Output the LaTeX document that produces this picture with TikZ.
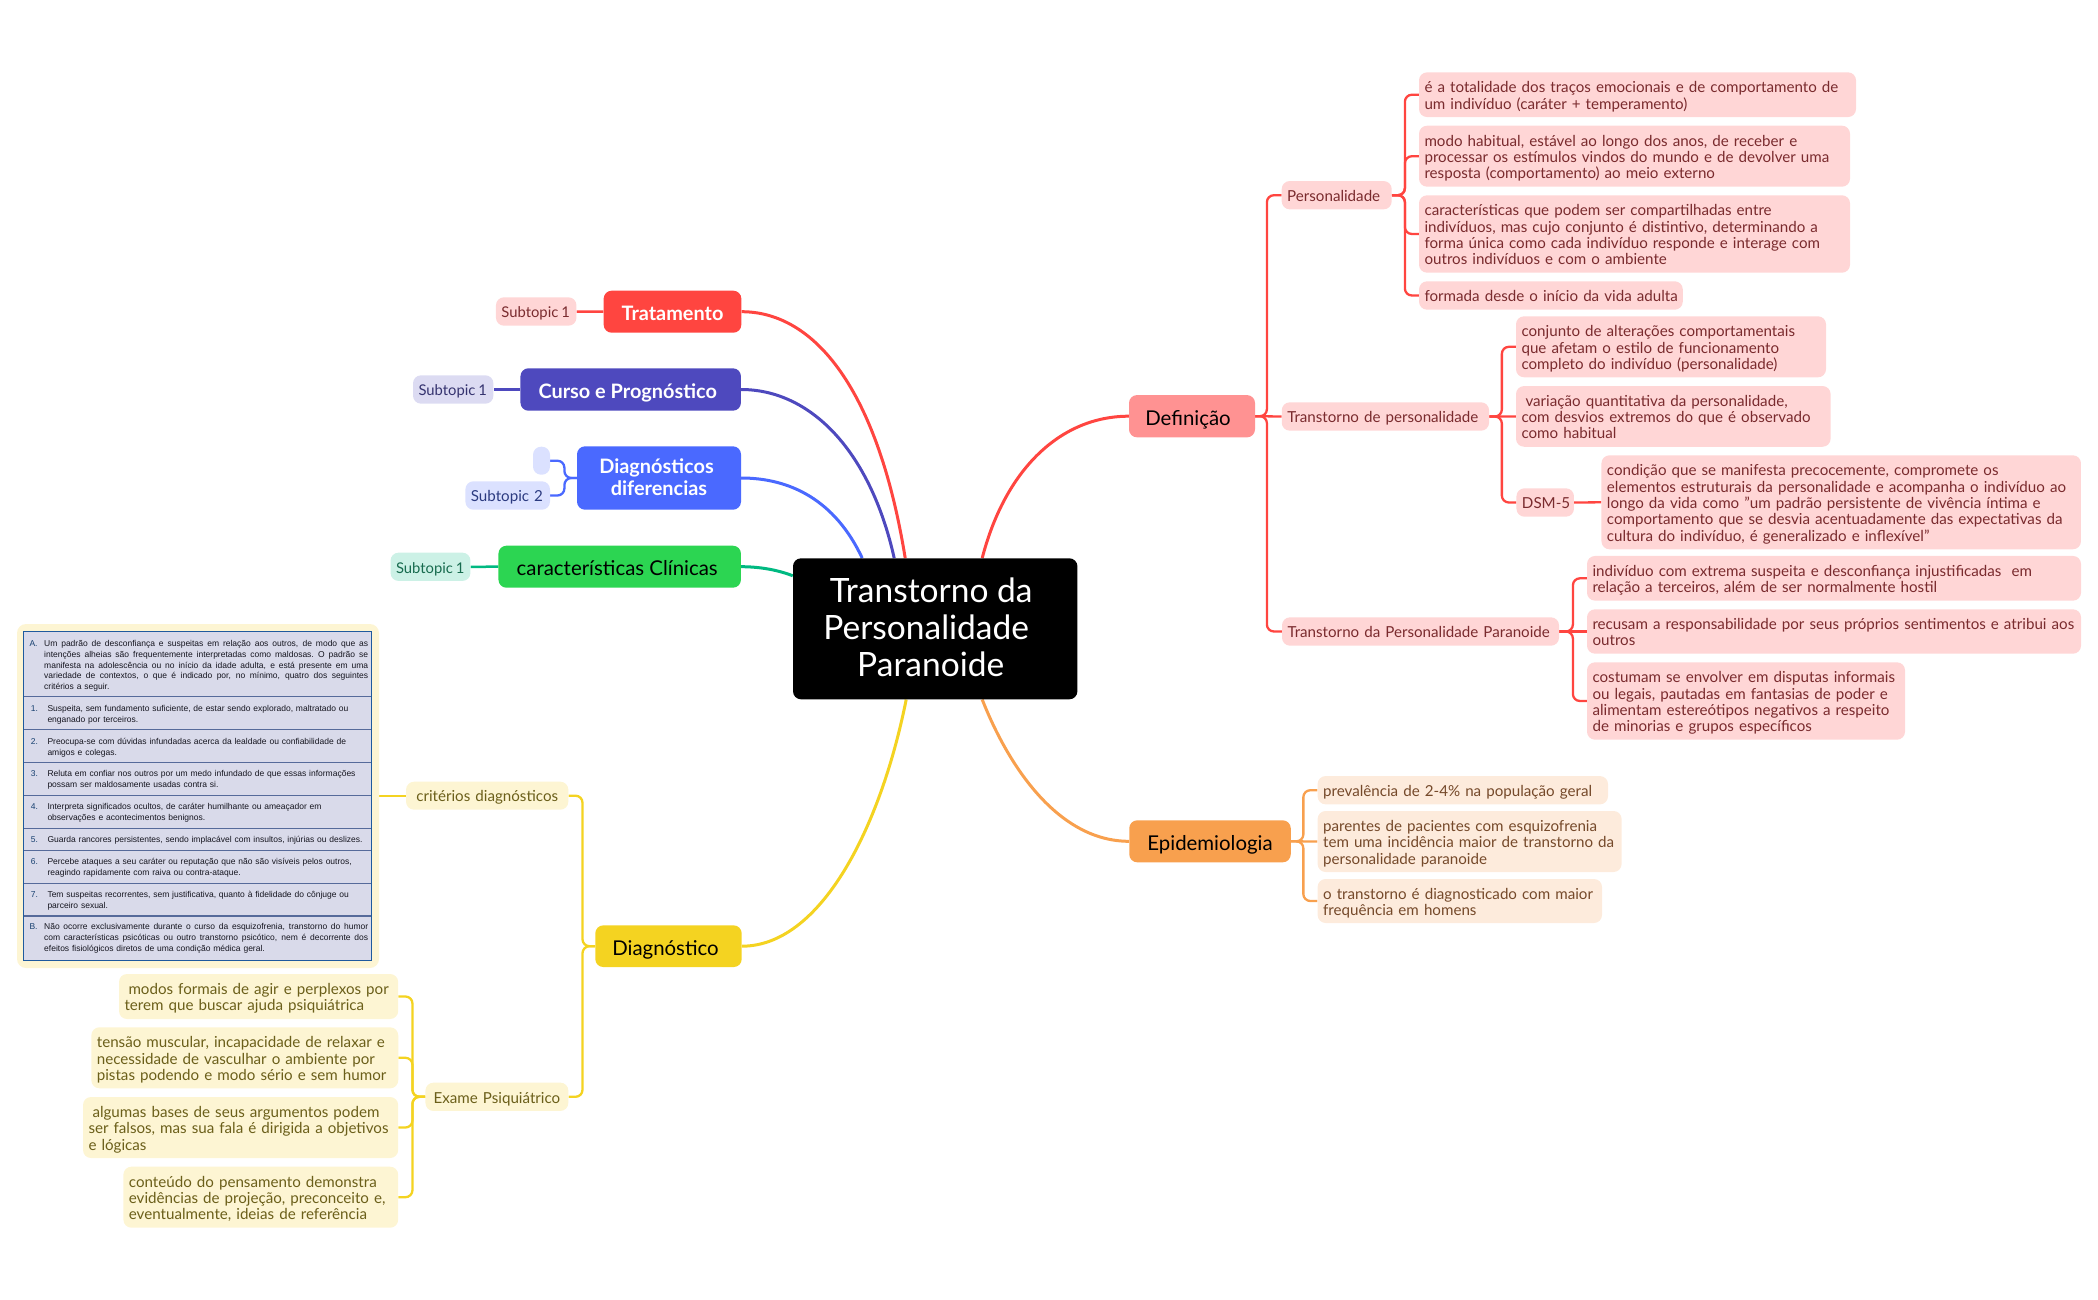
\documentclass[tikz,border=0pt]{standalone}
\usepackage{fontspec}
\setmainfont{Lato}
\newfontfamily\tablefont{Liberation Sans}
\usetikzlibrary{backgrounds}
\definecolor{cRed}{HTML}{FF4540}
\definecolor{cRedL}{HTML}{FFD6D6}
\definecolor{cRedT}{HTML}{7A2B2E}
\definecolor{cDef}{HTML}{FF9292}
\definecolor{cPur}{HTML}{4E49BE}
\definecolor{cPurL}{HTML}{DCDBF2}
\definecolor{cPurT}{HTML}{35336F}
\definecolor{cBlu}{HTML}{4A69FF}
\definecolor{cBluL}{HTML}{DBE1FF}
\definecolor{cBluT}{HTML}{2B3A80}
\definecolor{cGrn}{HTML}{2CD552}
\definecolor{cGrnLn}{HTML}{00B981}
\definecolor{cGrnL}{HTML}{CCF1E6}
\definecolor{cGrnT}{HTML}{176B4E}
\definecolor{cYel}{HTML}{F4D321}
\definecolor{cYelL}{HTML}{FDF5D3}
\definecolor{cYelT}{HTML}{6B5F1A}
\definecolor{cOra}{HTML}{F8A04E}
\definecolor{cOraL}{HTML}{FDEBDC}
\definecolor{cOraT}{HTML}{75492A}
\definecolor{cTab}{HTML}{D9DAEA}
\definecolor{cTabLn}{HTML}{566A9A}
\definecolor{cTabFr}{HTML}{1F5A9E}
\definecolor{cTabT}{HTML}{15151F}
\newcommand\jline[1]{\leavevmode\hbox to 324pt{\spaceskip=2.36pt plus 1fil\relax #1}}
\newcommand\firstgap[1]{\rule{0pt}{#1}}
\newcommand\lastgap[1]{\rule[-#1]{0pt}{1pt}}
\tikzset{
  x=1pt,y=-1pt,
  center/.style={fill=black,text=white,rounded corners=8pt,inner sep=0pt,align=center,font=\fontsize{33.5}{37}\selectfont,execute at begin node={\firstgap{35pt}},execute at end node={\lastgap{6.4pt}}},
  main/.style={rounded corners=8pt,inner sep=0pt,align=center,font=\fontsize{20.4}{22}\selectfont,execute at begin node={\firstgap{23pt}},execute at end node={\lastgap{5pt}}},
  mainw/.style={main,text=white,font=\fontsize{19.9}{22}\selectfont\bfseries},
  sub/.style={rounded corners=8pt,inner xsep=5.5pt,inner ysep=0pt,align=left,font=\fontsize{15.15}{16.3}\selectfont,execute at begin node={\firstgap{16.5pt}},execute at end node={\lastgap{4pt}}},
  rsub/.style={sub,fill=cRedL,text=cRedT},
  psub/.style={sub,fill=cPurL,text=cPurT},
  bsub/.style={sub,fill=cBluL,text=cBluT},
  gsub/.style={sub,fill=cGrnL,text=cGrnT},
  ysub/.style={sub,fill=cYelL,text=cYelT},
  osub/.style={sub,fill=cOraL,text=cOraT},
  topicone/.style={font=\fontsize{14.8}{16.3}\selectfont},
  thick1/.style={line width=3pt},
  branch/.style={line width=2.3pt,rounded corners=7pt},
  tablerow/.style={fill=cTab,draw=cTabLn,line width=1pt,minimum width=347.3pt,inner sep=0pt},
  tablab/.style={anchor=north west,inner sep=0pt,text=cTabFr!70!black,font=\tablefont\fontsize{8.5}{10.7}\selectfont},
  tabtxt/.style={anchor=north west,inner sep=0pt,text=cTabT,align=left,font=\tablefont\fontsize{8.5}{10.7}\selectfont},
}
\begin{document}
\begin{tikzpicture}
\useasboundingbox (0,0) rectangle (2098,1300);
% central topic
\node[center,minimum width=284.4pt,minimum height=141pt] (root) at (935.2,628.8) {\raisebox{-4pt}{Transtorno da}\kern8pt\\\raisebox{-4pt}{Personalidade}\kern18pt\\\raisebox{-4pt}{Paranoide}\kern9pt};
% main topics
\node[mainw,fill=cRed,minimum width=137.7pt,minimum height=42pt] (trat) at (672.5,311.7) {Tratamento};
\node[mainw,fill=cPur,minimum width=220.5pt,minimum height=42.4pt] (curso) at (630.7,389.5) {Curso e Prognóstico\kern6pt};
\node[mainw,fill=cBlu,minimum width=164pt,minimum height=63.4pt,execute at begin node={\firstgap{26pt}}] (difer) at (659,478) {\raisebox{-3.5pt}{Diagnósticos}\kern5pt\\\raisebox{-3.5pt}{diferencias}};
\node[main,fill=cGrn,text=black,minimum width=242.5pt,minimum height=42pt] (clin) at (619.7,566.7) {características Clínicas\kern5pt};
\node[main,fill=cDef,text=black,minimum width=126pt,minimum height=42.3pt] (defi) at (1192,416.2) {Definição\kern8pt};
\node[main,fill=cOra,text=black,minimum width=161.5pt,minimum height=42pt] (epi) at (1210,841.3) {Epidemiologia};
\node[main,fill=cYel,text=black,minimum width=146.4pt,minimum height=41.7pt] (diag) at (668.5,946.2) {Diagnóstico\kern6pt};
% left subtopics
\node[rsub,topicone,text width=69.5pt,minimum height=28.4pt] (s1) at (536.2,311.5) {\mbox{Subtopic\kern3pt 1}};
\node[psub,topicone,text width=69.4pt,minimum height=28.4pt] (s2) at (453.2,389.5) {\mbox{Subtopic\kern3pt 1}};
\node[bsub,inner xsep=0pt,minimum width=17pt,minimum height=28pt,execute at begin node={},execute at end node={}] (s3) at (541.5,460.7) {};
\node[bsub,text width=73.6pt,minimum height=28.4pt] (s4) at (507.7,495.5) {\mbox{Subtopic 2}};
\node[gsub,topicone,text width=68.9pt,minimum height=28.3pt] (s5) at (430.5,566.8) {\mbox{Subtopic\kern3pt 1}};
% Definição
\node[rsub,text width=99pt,minimum height=28.3pt] (per) at (1336.7,195.2) {Personalidade};
\node[rsub,text width=426pt,minimum height=44.7pt] (p1) at (1637.5,94.7) {é a totalidade dos traços emocionais e de comportamento de\\um indivíduo (caráter + temperamento)};
\node[rsub,text width=420pt,minimum height=61pt] (p2) at (1634.5,156.2) {modo habitual, estável ao longo dos anos, de receber e\\processar os estímulos vindos do mundo e de devolver uma\\resposta (comportamento) ao meio externo};
\node[rsub,text width=420pt,minimum height=77.4pt] (p3) at (1634.5,234) {características que podem ser compartilhadas entre\\indivíduos, mas cujo conjunto é distintivo, determinando a\\forma única como cada indivíduo responde e interage com\\outros indivíduos e com o ambiente};
\node[rsub,text width=252.7pt,minimum height=28.4pt] (p4) at (1550.9,295.5) {\mbox{formada desde o início da vida adulta}};
\node[rsub,text width=196.3pt,minimum height=28.4pt] (tdp) at (1385.4,416.5) {\mbox{Transtorno de personalidade}};
\node[rsub,text width=299pt,minimum height=61pt] (q1) at (1671,346.8) {conjunto de alterações comportamentais\\que afetam o estilo de funcionamento\\completo do indivíduo (personalidade)};
\node[rsub,text width=303.6pt,minimum height=60.7pt] (q2) at (1673.3,416.4) {\hspace*{4pt}variação quantitativa da personalidade,\\com desvios extremos do que é observado\\como habitual};
\node[rsub,text width=46.5pt,minimum height=28.4pt] (dsm) at (1545.2,502.5) {\mbox{DSM-5}};
\node[rsub,text width=468.5pt,minimum height=94pt] (dsmt) at (1841.2,502.3) {condição que se manifesta precocemente, compromete os\\elementos estruturais da personalidade e acompanha o indivíduo ao\\longo da vida como "um padrão persistente de vivência íntima e\\comportamento que se desvia acentuadamente das expectativas da\\cultura do indivíduo, é generalizado e inflexível"};
\node[rsub,text width=266pt,minimum height=28.4pt] (tpp) at (1420.5,631.5) {\mbox{Transtorno da Personalidade Paranoide}};
\node[rsub,text width=483pt,minimum height=44.7pt] (t1) at (1834,578.3) {indivíduo com extrema suspeita e desconfiança injustificadas\ \ em\\relação a terceiros, além de ser normalmente hostil};
\node[rsub,text width=483pt,minimum height=44.4pt] (t2) at (1834,631.5) {recusam a responsabilidade por seus próprios sentimentos e atribui aos\\outros};
\node[rsub,text width=307pt,minimum height=77.4pt] (t3) at (1746,701) {costumam se envolver em disputas informais\\ou legais, pautadas em fantasias de poder e\\alimentam estereótipos negativos a respeito\\de minorias e grupos específicos};
% Epidemiologia
\node[osub,text width=279.4pt,minimum height=28.3pt] (e1) at (1462.8,790.2) {\mbox{prevalência de 2-4\% na população geral}};
\node[osub,text width=293pt,minimum height=61pt] (e2) at (1469.6,841.5) {parentes de pacientes com esquizofrenia\\tem uma incidência maior de transtorno da\\personalidade paranoide};
\node[osub,text width=273.4pt,minimum height=44pt] (e3) at (1459.8,901) {o transtorno é diagnosticado com maior\\frequência em homens};
% Diagnóstico
\node[ysub,text width=151.3pt,minimum height=28pt,align=center] (cri) at (487.2,795.7) {critérios diagnósticos};
\node[ysub,text width=131.9pt,minimum height=28.3pt,align=center] (exa) at (496.9,1096.8) {Exame Psiquiátrico};
\node[ysub,text width=268.2pt,minimum height=45pt] (m1) at (258.6,996.5) {\hspace*{4pt}modos formais de agir e perplexos por\\terem que buscar ajuda psiquiátrica};
\node[ysub,text width=295.9pt,minimum height=61pt] (m2) at (244.8,1057.8) {tensão muscular, incapacidade de relaxar e\\necessidade de vasculhar o ambiente por\\pistas podendo e modo sério e sem humor};
\node[ysub,text width=304.2pt,minimum height=61pt] (m3) at (240.6,1127.5) {\hspace*{4pt}algumas bases de seus argumentos podem\\ser falsos, mas sua fala é dirigida a objetivos\\e lógicas};
\node[ysub,text width=263.8pt,minimum height=61pt] (m4) at (260.8,1197.2) {conteúdo do pensamento demonstra\\evidências de projeção, preconceito e,\\eventualmente, ideias de referência};
% criteria table
\node[fill=cYelL,rounded corners=9pt,minimum width=362pt,minimum height=344pt,inner sep=0pt] (tabbg) at (198,796) {};
\node[tablerow,minimum height=64.7pt] (r0) at (197.4,664.3) {};
\node[tablerow,minimum height=33.3pt] (r1) at (197.4,713.3) {};
\node[tablerow,minimum height=32.7pt] (r2) at (197.4,746.3) {};
\node[tablerow,minimum height=32.6pt] (r3) at (197.4,779) {};
\node[tablerow,minimum height=33pt] (r4) at (197.4,811.8) {};
\node[tablerow,minimum height=22pt] (r5) at (197.4,839.3) {};
\node[tablerow,minimum height=33pt] (r6) at (197.4,866.8) {};
\node[tablerow,minimum height=32.7pt] (r7) at (197.4,899.6) {};
\node[tablerow,minimum height=44pt] (r8) at (197.4,938) {};
\draw[cTabFr,line width=1.3pt] (r0.north west) rectangle (r8.south east);
\node[tablab] (l0) at (29.3,640.5) {A.};
\node[tabtxt,text width=324pt] (x0) at (44,640.5) {\jline{Um padrão de desconfiança e suspeitas em relação aos outros, de modo que as}\\\jline{intenções alheias são frequentemente interpretadas como maldosas. O padrão se}\\\jline{manifesta na adolescência ou no início da idade adulta, e está presente em uma}\\\jline{variedade de contextos, o que é indicado por, no mínimo, quatro dos seguintes}\\critérios a seguir.};
\node[tablab] (l1) at (30.7,705) {1.};
\node[tabtxt,text width=320pt] (x1) at (47.3,705) {Suspeita, sem fundamento suficiente, de estar sendo explorado, maltratado ou\\enganado por terceiros.};
\node[tablab] (l2) at (30.7,738) {2.};
\node[tabtxt,text width=320pt] (x2) at (47.3,738) {Preocupa-se com dúvidas infundadas acerca da lealdade ou confiabilidade de\\amigos e colegas.};
\node[tablab] (l3) at (30.7,770.5) {3.};
\node[tabtxt,text width=320pt] (x3) at (47.3,770.5) {Reluta em confiar nos outros por um medo infundado de que essas informações\\possam ser maldosamente usadas contra si.};
\node[tablab] (l4) at (30.7,803) {4.};
\node[tabtxt,text width=320pt] (x4) at (47.3,803) {Interpreta significados ocultos, de caráter humilhante ou ameaçador em\\observações e acontecimentos benignos.};
\node[tablab] (l5) at (30.7,836.5) {5.};
\node[tabtxt,text width=320pt] (x5) at (47.3,836.5) {Guarda rancores persistentes, sendo implacável com insultos, injúrias ou deslizes.};
\node[tablab] (l6) at (30.7,858.5) {6.};
\node[tabtxt,text width=320pt] (x6) at (47.3,858.5) {Percebe ataques a seu caráter ou reputação que não são visíveis pelos outros,\\reagindo rapidamente com raiva ou contra-ataque.};
\node[tablab] (l7) at (30.7,891) {7.};
\node[tabtxt,text width=320pt] (x7) at (47.3,891) {Tem suspeitas recorrentes, sem justificativa, quanto à fidelidade do cônjuge ou\\parceiro sexual.};
\node[tablab] (l8) at (29.3,923.5) {B.};
\node[tabtxt,text width=324pt] (x8) at (44,923.5) {\jline{Não ocorre exclusivamente durante o curso da esquizofrenia, transtorno do humor}\\\jline{com características psicóticas ou outro transtorno psicótico, nem é decorrente dos}\\efeitos fisiológicos diretos de uma condição médica geral.};
% connectors
\begin{scope}[on background layer]
\draw[cRed,thick1] (trat.east) .. controls (815,311.7) and (878,390) .. ([xshift=-30pt]root.north);
\draw[cPur,thick1] (curso.east) .. controls (810,389.5) and (870,450) .. ([xshift=-41pt]root.north);
\draw[cBlu,thick1] (difer.east) .. controls (790,478) and (835,500) .. ([xshift=-73pt]root.north);
\draw[cGrnLn,thick1] (clin.east) .. controls (760,566.7) and (778,570) .. ([yshift=53pt]root.west);
\draw[cRed,thick1] (defi.west) .. controls (1060,416.2) and (1005,470) .. ([xshift=47pt]root.north);
\draw[cOra,thick1] (epi.west) .. controls (1060,841.3) and (1010,770) .. ([xshift=47pt]root.south);
\draw[cYel,thick1] (diag.east) .. controls (820,946.2) and (880,830) .. ([xshift=-29pt]root.south);
\draw[cRed,line width=2.5pt] (trat.west) -- (s1.east);
\draw[cPur,line width=2.5pt] (curso.west) -- (s2.east);
\draw[cGrnLn,line width=2.5pt] (clin.west) -- (s5.east);
\draw[cBlu,branch] (difer.west) -- ++(-12.4,0) |- (s3.east);
\draw[cBlu,branch] (difer.west) -- ++(-12.4,0) |- (s4.east);
% Definição
\draw[cRed,branch] (defi.east) -- ++(11.7,0) |- (per.west);
\draw[cRed,branch] (defi.east) -- (tdp.west);
\draw[cRed,branch] (defi.east) -- ++(11.7,0) |- (tpp.west);
\foreach \c in {p1,p2,p3,p4}{\draw[cRed,branch] (per.east) -- ++(13,0) |- (\c.west);}
\foreach \c in {q1,dsm}{\draw[cRed,branch] (tdp.east) -- ++(12.6,0) |- (\c.west);}
\draw[cRed,branch] (tdp.east) -- (q2.west);
\draw[cRed,branch] (dsm.east) -- (dsmt.west);
\foreach \c in {t1,t3}{\draw[cRed,branch] (tpp.east) -- ++(13.7,0) |- (\c.west);}
\draw[cRed,branch] (tpp.east) -- (t2.west);
% Epidemiologia
\foreach \c in {e1,e3}{\draw[cOra,branch] (epi.east) -- ++(12.4,0) |- (\c.west);}
\draw[cOra,branch] (epi.east) -- (e2.west);
% Diagnóstico
\foreach \c in {cri,exa}{\draw[cYel,branch] (diag.west) -- ++(-12.6,0) |- (\c.east);}
\draw[cYel,branch] (cri.west) -- (tabbg.east |- cri.west);
\foreach \c in {m1,m2,m3,m4}{\draw[cYel,branch] (exa.west) -- ++(-12.8,0) |- (\c.east);}
\end{scope}
\end{tikzpicture}
\end{document}
